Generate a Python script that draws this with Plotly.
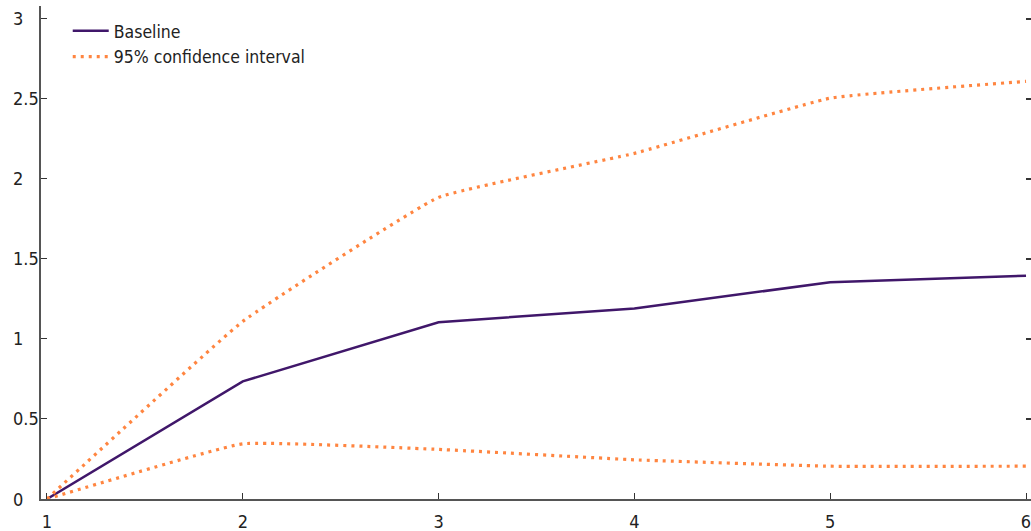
import plotly.graph_objects as go

x_vals = [1, 2, 3, 4, 5, 6]
baseline = [0.0, 0.735, 1.105, 1.19, 1.355, 1.395]
ci_upper = [0.0, 1.11, 1.885, 2.16, 2.505, 2.61]
ci_lower = [0.0, 0.345, 0.31, 0.245, 0.205, 0.205]
x_ticks = [1, 2, 3, 4, 5, 6]
y_ticks = [0, 0.5, 1, 1.5, 2, 2.5, 3]
y_tick_labels = ["0", "0.5", "1", "1.5", "2", "2.5", "3"]

purple = "#40176A"
orange = "#FF8540"
font_family = "DejaVu Sans Condensed, Liberation Sans Narrow, sans-serif"

fig = go.Figure()
fig.add_trace(go.Scatter(x=x_vals, y=baseline, mode="lines", name="Baseline",
                         line=dict(color=purple, width=2.5)))
fig.add_trace(go.Scatter(x=x_vals, y=ci_upper, mode="lines", name="95% confidence interval",
                         line=dict(color=orange, width=3.2, dash="3px,5px", shape="spline", smoothing=0.3),
                         legendgroup="ci"))
fig.add_trace(go.Scatter(x=x_vals, y=ci_lower, mode="lines", name="95% confidence interval",
                         line=dict(color=orange, width=3.2, dash="3px,5px", shape="spline", smoothing=0.3),
                         legendgroup="ci", showlegend=False))
# transparent trace on the right axis, only for the mirrored inside ticks
fig.add_trace(go.Scatter(x=x_vals, y=baseline, yaxis="y2", mode="lines",
                         line=dict(width=1, color="rgba(0,0,0,0)"), showlegend=False, hoverinfo="skip"))

for v, t in zip(y_ticks, y_tick_labels):
    fig.add_annotation(x=0, xref="paper", y=v, yref="y", text=t, xanchor="left",
                       xshift=-30, showarrow=False, font=dict(size=18, color="#222"))

yr = [0, 3.081]
fig.update_layout(
    width=1031, height=531,
    margin=dict(l=41, r=0, t=6, b=32, autoexpand=False),
    paper_bgcolor="white", plot_bgcolor="white",
    font=dict(family=font_family, size=18, color="#222"),
    showlegend=True,
    legend=dict(x=0.027, y=0.986, xanchor="left", yanchor="top",
                bgcolor="rgba(0,0,0,0)", font=dict(size=17.5, color="#222"),
                tracegroupgap=0, itemwidth=36),
    xaxis=dict(range=[0.9694, 6.0255], tickvals=x_ticks, ticks="inside", ticklen=6,
               tickcolor="#333", showline=True, linecolor="#555", linewidth=1.5,
               showgrid=False, zeroline=False, automargin=False, ticklabelstandoff=6,
               ticklabeloverflow="allow"),
    yaxis=dict(range=yr, tickvals=y_ticks, ticks="inside", ticklen=6,
               tickcolor="#333", showline=True, linecolor="#555", linewidth=1.5,
               showgrid=False, zeroline=False, showticklabels=False, automargin=False),
    yaxis2=dict(range=yr, tickvals=y_ticks, overlaying="y", side="right", anchor="x",
                ticks="inside", ticklen=5, tickcolor="#333", tickwidth=1.5, showticklabels=False,
                showline=False, showgrid=False, zeroline=False, automargin=False),
)

fig.write_html("out.html", config={"displayModeBar": False},
               post_script="document.body.style.margin='0';document.body.style.overflow='hidden';")
